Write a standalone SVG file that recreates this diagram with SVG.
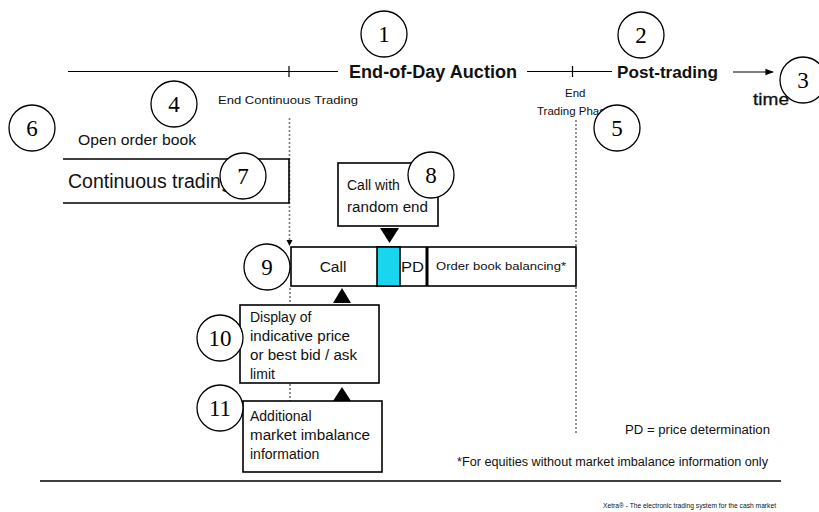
<svg xmlns="http://www.w3.org/2000/svg" width="819" height="512" viewBox="0 0 819 512">
  <style>
    .line { stroke: #000; stroke-width: 1.2; fill: none; }
    .box { fill: #fff; stroke: #000; stroke-width: 1.6; }
    .dot { stroke: #777; stroke-width: 1.6; stroke-dasharray: 2 2; fill: none; }
    .sans { font-family: "Liberation Sans", Arial, sans-serif; fill: #111; }
    .bold { font-weight: bold; }
    .num circle { fill: #fff; stroke: #000; stroke-width: 1.3; }
    .num text { font-family: "Liberation Serif", "Times New Roman", serif; font-size: 23px; text-anchor: middle; fill: #000; }
    .tri { fill: #000; }
  </style>
  <defs>
    <marker id="arrow" viewBox="0 0 10 10" refX="9" refY="5" markerWidth="7" markerHeight="7" orient="auto">
      <path d="M0,1 L10,5 L0,9 z" fill="#000"/>
    </marker>
  </defs>
  <rect width="819" height="512" fill="#fff"/>

  <!-- time axis -->
  <g id="timeline">
    <line class="line" x1="68" y1="71.5" x2="338" y2="71.5"/>
    <line class="line" x1="289" y1="66" x2="289" y2="77"/>
    <line class="line" x1="527" y1="71.5" x2="612" y2="71.5"/>
    <line class="line" x1="572.5" y1="66" x2="572.5" y2="77"/>
    <line class="line" x1="733" y1="72" x2="773" y2="72" marker-end="url(#arrow)"/>
    <text class="sans bold" x="349" y="78" font-size="17.5" textLength="168" lengthAdjust="spacingAndGlyphs">End-of-Day Auction</text>
    <text class="sans bold" x="617" y="78" font-size="17" textLength="101" lengthAdjust="spacingAndGlyphs">Post-trading</text>
    <text class="sans" x="753" y="105" font-size="16" textLength="36" lengthAdjust="spacingAndGlyphs" style="stroke:#111;stroke-width:0.3">time</text>
    <text class="sans" x="218" y="104" font-size="11.5" textLength="140" lengthAdjust="spacingAndGlyphs">End Continuous Trading</text>
    <text class="sans" x="565" y="97" font-size="11.5">End</text>
    <text class="sans" x="537" y="115" font-size="11.5">Trading Phase</text>
  </g>

  <!-- connectors: phase boundaries and pointers -->
  <g id="connectors">
    <line class="dot" x1="289.5" y1="118" x2="289.5" y2="243"/>
    <path d="M286.5,240 L292.5,240 L289.5,246 z" class="tri"/>
    <line class="dot" x1="290" y1="288" x2="290" y2="304"/>
    <line class="dot" x1="290" y1="384" x2="290" y2="401"/>
    <line class="dot" x1="576" y1="120" x2="576" y2="247"/>
    <line class="dot" x1="576" y1="287" x2="576" y2="435"/>
    <path d="M380,228 L399,228 L389.5,243 z" class="tri"/>
    <path d="M342,288 L351,303 L333,303 z" class="tri"/>
    <path d="M342,387 L351,401 L333,401 z" class="tri"/>
  </g>

  <g id="open-order-book">
    <text class="sans" x="78" y="145" font-size="14.5" textLength="118" lengthAdjust="spacingAndGlyphs">Open order book</text>
  </g>

  <g id="continuous-trading">
    <path class="box" d="M63,159 L289,159 L289,203 L63,203" fill="none"/>
    <text class="sans" x="68" y="188" font-size="19.5">Continuous trading</text>
  </g>

  <g id="call-random-end">
    <rect class="box" x="338" y="163" width="100" height="63"/>
    <text class="sans" x="347" y="190" font-size="14">Call with</text>
    <text class="sans" x="347" y="212" font-size="14" textLength="81" lengthAdjust="spacingAndGlyphs">random end</text>
  </g>

  <g id="auction-bar">
    <rect class="box" x="291" y="247" width="285" height="39"/>
    <rect x="377" y="247" width="23" height="39" fill="#19d6ee" stroke="#000" stroke-width="1.6"/>
    <line x1="427" y1="247" x2="427" y2="286" stroke="#000" stroke-width="3"/>
    <text class="sans" x="333" y="272" font-size="15.5" text-anchor="middle">Call</text>
    <text class="sans" x="401" y="272" font-size="14" textLength="23" lengthAdjust="spacingAndGlyphs">PD</text>
    <text class="sans" x="436" y="270" font-size="11" textLength="130" lengthAdjust="spacingAndGlyphs">Order book balancing*</text>
  </g>

  <g id="indicative-price">
    <rect class="box" x="240" y="305" width="139" height="78"/>
    <text class="sans" x="250" y="322" font-size="14">Display of</text>
    <text class="sans" x="250" y="341" font-size="14" textLength="100" lengthAdjust="spacingAndGlyphs">indicative price</text>
    <text class="sans" x="250" y="360" font-size="14" textLength="107" lengthAdjust="spacingAndGlyphs">or best bid / ask</text>
    <text class="sans" x="250" y="379" font-size="14">limit</text>
  </g>

  <g id="imbalance-info">
    <rect class="box" x="243" y="401" width="139" height="71"/>
    <text class="sans" x="250" y="421" font-size="14">Additional</text>
    <text class="sans" x="250" y="440" font-size="14" textLength="120" lengthAdjust="spacingAndGlyphs">market imbalance</text>
    <text class="sans" x="250" y="459" font-size="14">information</text>
  </g>

  <g id="notes">
    <text class="sans" x="625" y="434" font-size="12" textLength="145" lengthAdjust="spacingAndGlyphs">PD = price determination</text>
    <text class="sans" x="457" y="466" font-size="12" textLength="311" lengthAdjust="spacingAndGlyphs">*For equities without market imbalance information only</text>
    <line x1="40" y1="481" x2="781" y2="481" stroke="#000" stroke-width="1.6"/>
    <text class="sans" x="603" y="508" font-size="8" textLength="173" lengthAdjust="spacingAndGlyphs">Xetra® - The electronic trading system for the cash market</text>
  </g>

  <!-- numbered callouts -->
  <g id="n1" class="num"><circle cx="384" cy="34" r="23"/><text x="384" y="42">1</text></g>
  <g id="n2" class="num"><circle cx="641" cy="35" r="23"/><text x="641" y="43">2</text></g>
  <g id="n3" class="num"><circle cx="803" cy="80" r="23"/><text x="803" y="88">3</text></g>
  <g id="n4" class="num"><circle cx="174" cy="104" r="23"/><text x="174" y="112">4</text></g>
  <g id="n5" class="num"><circle cx="617" cy="128" r="23"/><text x="617" y="136">5</text></g>
  <g id="n6" class="num"><circle cx="32" cy="128" r="23"/><text x="32" y="136">6</text></g>
  <g id="n7" class="num"><circle cx="243" cy="176" r="23"/><text x="243" y="184">7</text></g>
  <g id="n8" class="num"><circle cx="431" cy="175" r="23"/><text x="431" y="183">8</text></g>
  <g id="n9" class="num"><circle cx="267" cy="267" r="23"/><text x="267" y="275">9</text></g>
  <g id="n10" class="num"><circle cx="220" cy="338" r="23"/><text x="220" y="346">10</text></g>
  <g id="n11" class="num"><circle cx="220" cy="408" r="23"/><text x="220" y="416">11</text></g>
</svg>
